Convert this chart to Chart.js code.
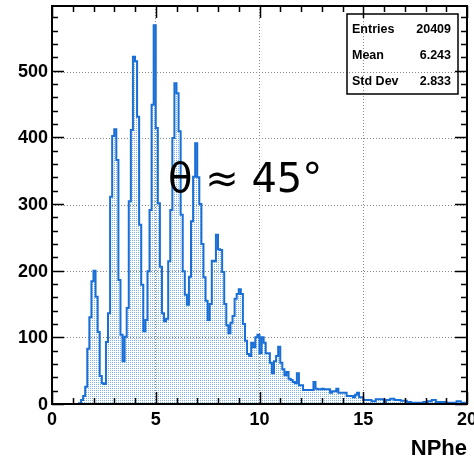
<!DOCTYPE html>
<html>
<head>
<meta charset="utf-8">
<script src="https://cdn.jsdelivr.net/npm/chart.js@4/dist/chart.umd.min.js"></script>
<style>
  html, body { margin: 0; padding: 0; background: #fff; }
  canvas { display: block; }
</style>
</head>
<body>
<canvas id="hist" width="474" height="457"></canvas>
<script>
// NPhe histogram, 200 bins of 0.1 from 0 to 20
const binWidth = 0.1;
const counts = [
  0, 0, 0, 0, 0, 0, 0, 0, 0, 0,
  0, 0, 0, 1, 6, 12, 26, 83, 130, 184,
  200, 161, 108, 42, 31, 30, 93, 136, 311, 402,
  412, 366, 186, 104, 64, 101, 144, 304, 411, 521,
  514, 431, 269, 179, 109, 126, 199, 291, 449, 568,
  414, 301, 206, 136, 124, 128, 214, 291, 399, 481,
  466, 409, 284, 199, 164, 149, 191, 274, 341, 391,
  340, 300, 240, 190, 155, 126, 150, 215, 214, 254,
  232, 231, 198, 150, 118, 106, 122, 132, 158, 165,
  172, 165, 120, 95, 75, 72, 92, 85, 100, 104,
  76, 100, 92, 76, 76, 62, 46, 64, 72, 86,
  62, 52, 43, 48, 38, 36, 33, 31, 46, 28,
  28, 21, 21, 21, 21, 21, 33, 23, 22, 22,
  23, 22, 22, 22, 17, 19, 19, 23, 17, 17,
  17, 17, 12, 12, 12, 10, 14, 17, 10, 10,
  6, 6, 6, 6, 4, 4, 7, 7, 7, 7,
  2, 6, 6, 8, 8, 6, 6, 6, 5, 5,
  5, 3, 3, 2, 2, 2, 2, 2, 2, 3,
  3, 4, 4, 6, 6, 3, 3, 3, 3, 3,
  2, 2, 2, 2, 2, 4, 4, 2, 2, 2
];
const xTicks = [0, 5, 10, 15, 20];
const yTicks = [0, 100, 200, 300, 400, 500];
const statNames = ['Entries', 'Mean', 'Std Dev'];
const statValues = ['20409', '6.243', '2.833'];
const xTitle = 'NPhe';
const note = 'θ ≈ 45°';

const lineColor = '#1a6fd6';

// dotted fill like ROOT fill style
const pat = document.createElement('canvas');
pat.width = 2; pat.height = 2;
const pctx = pat.getContext('2d');
pctx.fillStyle = '#7fb2ea';
pctx.fillRect(0, 0, 1, 1);
const fillPattern = pctx.createPattern(pat, 'repeat');

const points = counts.map((c, i) => ({ x: +(i * binWidth).toFixed(1), y: c }));
points.push({ x: 20, y: counts[counts.length - 1] });

const frame = {
  id: 'frame',
  afterDraw(chart) {
    const { ctx, chartArea: a, scales: { x, y } } = chart;
    ctx.save();
    ctx.strokeStyle = '#000';
    ctx.fillStyle = '#000';

    // ticks on all four sides
    ctx.lineWidth = 1.5;
    ctx.beginPath();
    for (let v = 0; v <= 20; v++) {
      const px = Math.round(x.getPixelForValue(v)) + 0.5;
      const len = v % 5 === 0 ? 12 : 6;
      ctx.moveTo(px, a.bottom); ctx.lineTo(px, a.bottom - len);
      ctx.moveTo(px, a.top); ctx.lineTo(px, a.top + len);
    }
    for (let v = 0; v <= 580; v += 20) {
      const py = Math.round(y.getPixelForValue(v)) + 0.5;
      const len = v % 100 === 0 ? 12 : 6;
      ctx.moveTo(a.left, py); ctx.lineTo(a.left + len, py);
      ctx.moveTo(a.right, py); ctx.lineTo(a.right - len, py);
    }
    ctx.stroke();

    // frame
    ctx.lineWidth = 2;
    ctx.strokeRect(a.left, a.top, a.right - a.left, a.bottom - a.top);

    // tick labels
    ctx.font = 'bold 18px "Liberation Sans", Arial, sans-serif';
    ctx.textAlign = 'center';
    ctx.textBaseline = 'top';
    xTicks.forEach(v => ctx.fillText(String(v), x.getPixelForValue(v), a.bottom + 7));
    ctx.textAlign = 'right';
    ctx.textBaseline = 'middle';
    yTicks.forEach(v => ctx.fillText(String(v), a.left - 4, y.getPixelForValue(v) + 1));

    // axis title
    ctx.font = 'bold 22px "Liberation Sans", Arial, sans-serif';
    ctx.textAlign = 'right';
    ctx.textBaseline = 'alphabetic';
    ctx.fillText(xTitle, a.right, 455);

    // stats box
    const bx = 347, by = 14, bw = 111, bh = 80;
    ctx.lineWidth = 1.5;
    ctx.strokeRect(bx, by, bw, bh);
    ctx.font = 'bold 12.5px "Liberation Sans", Arial, sans-serif';
    ctx.textBaseline = 'middle';
    statNames.forEach((n, i) => {
      const ty = by + 16 + i * 26;
      ctx.textAlign = 'left';
      ctx.fillText(n, bx + 5, ty);
      ctx.textAlign = 'right';
      ctx.fillText(statValues[i], bx + bw - 7, ty);
    });

    // annotation
    ctx.font = '40px "DejaVu Sans", sans-serif';
    ctx.textAlign = 'left';
    ctx.textBaseline = 'alphabetic';
    ctx.fillText(note, 168, 192);
    ctx.restore();
  }
};

new Chart(document.getElementById('hist'), {
  type: 'line',
  data: {
    datasets: [{
      data: points,
      stepped: true,
      borderColor: lineColor,
      borderWidth: 2,
      backgroundColor: fillPattern,
      fill: 'origin',
      pointRadius: 0,
      tension: 0
    }]
  },
  options: {
    responsive: false,
    animation: false,
    devicePixelRatio: 1,
    layout: { padding: { left: 52, right: 7, top: 6, bottom: 53 } },
    plugins: { legend: { display: false }, tooltip: { enabled: false } },
    scales: {
      x: {
        type: 'linear', min: 0, max: 20,
        ticks: { display: false, stepSize: 5 },
        grid: { color: '#888', lineWidth: 1, drawTicks: false },
        border: { display: false, dash: [1, 2] }
      },
      y: {
        type: 'linear', min: 0, max: 597,
        ticks: { display: false, stepSize: 100 },
        grid: { color: '#888', lineWidth: 1, drawTicks: false },
        border: { display: false, dash: [1, 2] }
      }
    }
  },
  plugins: [frame]
});
</script>
</body>
</html>
